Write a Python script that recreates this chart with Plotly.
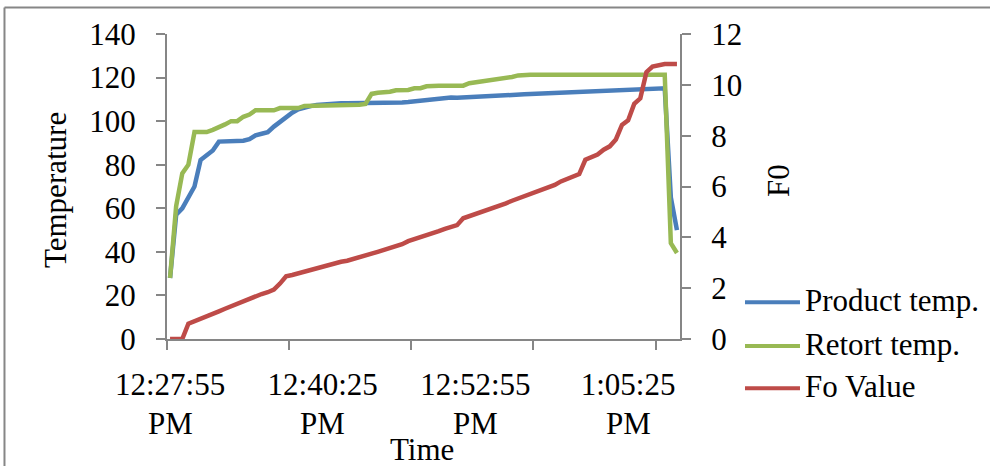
import plotly.graph_objects as go

TIMES = [
    "12:27:55 PM", "12:28:25 PM", "12:28:55 PM", "12:29:25 PM", "12:29:55 PM", "12:30:25 PM",
    "12:30:55 PM", "12:31:25 PM", "12:31:55 PM", "12:32:25 PM", "12:32:55 PM", "12:33:25 PM",
    "12:33:55 PM", "12:34:25 PM", "12:34:55 PM", "12:35:25 PM", "12:35:55 PM", "12:36:25 PM",
    "12:36:55 PM", "12:37:25 PM", "12:37:55 PM", "12:38:25 PM", "12:38:55 PM", "12:39:25 PM",
    "12:39:55 PM", "12:40:25 PM", "12:40:55 PM", "12:41:25 PM", "12:41:55 PM", "12:42:25 PM",
    "12:42:55 PM", "12:43:25 PM", "12:43:55 PM", "12:44:25 PM", "12:44:55 PM", "12:45:25 PM",
    "12:45:55 PM", "12:46:25 PM", "12:46:55 PM", "12:47:25 PM", "12:47:55 PM", "12:48:25 PM",
    "12:48:55 PM", "12:49:25 PM", "12:49:55 PM", "12:50:25 PM", "12:50:55 PM", "12:51:25 PM",
    "12:51:55 PM", "12:52:25 PM", "12:52:55 PM", "12:53:25 PM", "12:53:55 PM", "12:54:25 PM",
    "12:54:55 PM", "12:55:25 PM", "12:55:55 PM", "12:56:25 PM", "12:56:55 PM", "12:57:25 PM",
    "12:57:55 PM", "12:58:25 PM", "12:58:55 PM", "12:59:25 PM", "12:59:55 PM", "1:00:25 PM",
    "1:00:55 PM", "1:01:25 PM", "1:01:55 PM", "1:02:25 PM", "1:02:55 PM", "1:03:25 PM",
    "1:03:55 PM", "1:04:25 PM", "1:04:55 PM", "1:05:25 PM", "1:05:55 PM", "1:06:25 PM",
    "1:06:55 PM", "1:07:25 PM", "1:07:55 PM", "1:08:25 PM", "1:08:55 PM", "1:09:25 PM",
]

PRODUCT_TEMP = [
    28, 57, 60, 64.6, 70, 82.2, 84.5, 86.5, 90.6, 90.6,
    90.6, 90.6, 91, 91.7, 93.5, 94.2, 94.9, 97.5, 99.8, 101.7,
    103.9, 105.4, 106.3, 106.9, 107.4, 107.7, 107.9, 108.2, 108.2, 108.2,
    108.2, 108.2, 108.2, 108.2, 108.3, 108.3, 108.4, 108.5, 108.6, 108.8,
    109.1, 109.4, 109.7, 110.2, 110.5, 110.9, 110.9, 110.7, 110.8, 111.0,
    111.2, 111.4, 111.6, 111.8, 111.7, 111.6, 111.9, 112.1, 112.3, 112.5,
    112.6, 112.8, 112.9, 113.0, 113.1, 113.2, 113.4, 113.5, 113.6, 113.7,
    113.8, 113.9, 114.0, 114.2, 114.3, 114.4, 114.5, 114.6, 114.7, 114.9,
    115.0, 115.1, 65, 50,
]

RETORT_TEMP = [
    28, 61, 76, 80, 95, 95, 95, 96, 97, 98.5,
    100, 100, 102, 103, 105, 105, 105, 105, 106, 106,
    106, 106, 107, 107, 107, 107, 107, 107, 107, 107,
    107.3, 107.5, 107.9, 112.5, 113, 113.2, 113.5, 114.2, 114.3, 114.3,
    115.1, 115.1, 116, 116.3, 116.3, 116.3, 116.3, 116.3, 116.3, 117.4,
    117.8, 118.2, 118.5, 118.9, 119.2, 119.6, 120.3, 121.0, 121.3, 121.3,
    121.3, 121.3, 121.3, 121.3, 121.3, 121.3, 121.3, 121.3, 121.3, 121.3,
    121.3, 121.3, 121.3, 121.3, 121.3, 121.3, 121.3, 121.3, 121.3, 121.3,
    121.3, 121.3, 44, 39.5,
]

FO_VALUE = [
    0, 0, 0, 0.6, 0.69, 0.79, 0.89, 0.99, 1.09, 1.19,
    1.29, 1.39, 1.49, 1.59, 1.67, 1.77, 1.84, 1.94, 2.18, 2.47,
    2.52, 2.59, 2.66, 2.72, 2.79, 2.86, 2.92, 2.99, 3.04, 3.08,
    3.14, 3.21, 3.29, 3.36, 3.43, 3.50, 3.59, 3.66, 3.73, 3.85,
    3.92, 3.99, 4.09, 4.17, 4.24, 4.33, 4.41, 4.48, 4.75, 4.83,
    4.91, 5.00, 5.07, 5.15, 5.27, 5.34, 5.44, 5.53, 5.60, 5.70,
    5.80, 5.88, 5.96, 6.06, 6.20, 6.30, 6.39, 6.49, 7.05, 7.16,
    7.26, 7.45, 7.58, 7.85, 8.42, 8.60, 9.25, 9.47, 10.5, 10.72,
    10.78, 10.82, 10.82, 10.82,
]

SERIES_NAMES = ["Product temp.", "Retort temp.", "Fo Value"]
SERIES_COLORS = ["#4A7EBB", "#98B954", "#BE4B48"]

LABEL_IDX = [0, 25, 50, 75]
TICK_LABELS_TIME = ["12:27:55", "12:40:25", "12:52:55", "1:05:25"]
TICK_LABELS_AMPM = ["PM", "PM", "PM", "PM"]
TICK_MARK_POS = [-0.5, 19.5, 39.5, 59.5, 79.5]

FONT = "Liberation Serif"
FS = 31
AXIS_COLOR = "#868686"
LW = 4.5

x_idx = list(range(len(TIMES)))

fig = go.Figure()
fig.add_trace(go.Scatter(x=x_idx, y=PRODUCT_TEMP, name=SERIES_NAMES[0], mode="lines",
                         line=dict(color=SERIES_COLORS[0], width=LW), customdata=TIMES,
                         showlegend=False))
fig.add_trace(go.Scatter(x=x_idx, y=RETORT_TEMP, name=SERIES_NAMES[1], mode="lines",
                         line=dict(color=SERIES_COLORS[1], width=LW), customdata=TIMES,
                         showlegend=False))
fig.add_trace(go.Scatter(x=x_idx, y=FO_VALUE, name=SERIES_NAMES[2], mode="lines",
                         line=dict(color=SERIES_COLORS[2], width=LW), customdata=TIMES,
                         yaxis="y2", showlegend=False))

fig.update_layout(
    width=990, height=466,
    margin=dict(l=167, r=310, t=34, b=127),
    paper_bgcolor="white", plot_bgcolor="white",
    font=dict(family=FONT, size=FS, color="black"),
    showlegend=False,
    xaxis=dict(
        type="linear", range=[-0.5, len(TIMES) - 0.5],
        tickmode="array", tickvals=[x_idx[i] for i in LABEL_IDX], ticktext=TICK_LABELS_TIME,
        ticks="", showgrid=False, zeroline=False,
        showline=True, linecolor=AXIS_COLOR, linewidth=2,
        ticklabelstandoff=17,
        minor=dict(tickmode="array", tickvals=TICK_MARK_POS, ticks="outside",
                   ticklen=9, tickwidth=2, tickcolor=AXIS_COLOR, showgrid=False),
    ),
    yaxis=dict(
        range=[0, 140], dtick=20, tick0=0, ticks="outside", ticklen=9, tickwidth=2,
        tickcolor=AXIS_COLOR, showline=True, linecolor=AXIS_COLOR, linewidth=2,
        showgrid=False, zeroline=False, ticklabelstandoff=14,
    ),
    yaxis2=dict(
        range=[0, 12], dtick=2, tick0=0, overlaying="y", side="right",
        ticks="outside", ticklen=9, tickwidth=2, tickcolor=AXIS_COLOR,
        showline=True, linecolor=AXIS_COLOR, linewidth=2,
        showgrid=False, zeroline=False, ticklabelstandoff=14,
    ),
)

# second line of the category labels
for i, txt in zip(LABEL_IDX, TICK_LABELS_AMPM):
    fig.add_annotation(text=txt, xref="x", yref="paper", x=x_idx[i], y=-0.277,
                       showarrow=False, xanchor="center", yanchor="middle",
                       font=dict(family=FONT, size=FS))

# axis titles
fig.add_annotation(text="Temperature", xref="paper", yref="paper", x=-0.2183, y=0.4885,
                   textangle=-90, showarrow=False, xanchor="center", yanchor="middle",
                   font=dict(family=FONT, size=FS))
fig.add_annotation(text="F0", xref="paper", yref="paper", x=1.191, y=0.521,
                   textangle=-90, showarrow=False, xanchor="center", yanchor="middle",
                   font=dict(family=FONT, size=FS))
fig.add_annotation(text="Time", xref="paper", yref="paper", x=0.497, y=-0.362,
                   showarrow=False, xanchor="center", yanchor="middle",
                   font=dict(family=FONT, size=FS))

# legend (custom, Excel-like)
leg_y = [0.1203, -0.02295, -0.1616]
for name, color, ly in zip(SERIES_NAMES, SERIES_COLORS, leg_y):
    fig.add_shape(type="line", xref="paper", yref="paper", x0=1.1267, x1=1.2339, y0=ly, y1=ly,
                  line=dict(color=color, width=4))
    fig.add_annotation(text=name, xref="paper", yref="paper", x=1.2398, y=ly + 0.006,
                       showarrow=False, xanchor="left", yanchor="middle",
                       font=dict(family=FONT, size=FS))

# outer chart border (top and left edges visible)
fig.add_shape(type="line", xref="paper", yref="paper", x0=-0.3168, x1=1.65, y0=1.0869, y1=1.0869,
              line=dict(color=AXIS_COLOR, width=2))
fig.add_shape(type="line", xref="paper", yref="paper", x0=-0.3168, x1=-0.3168, y0=1.0869, y1=-0.45,
              line=dict(color=AXIS_COLOR, width=2))

fig.write_html("out.html")
